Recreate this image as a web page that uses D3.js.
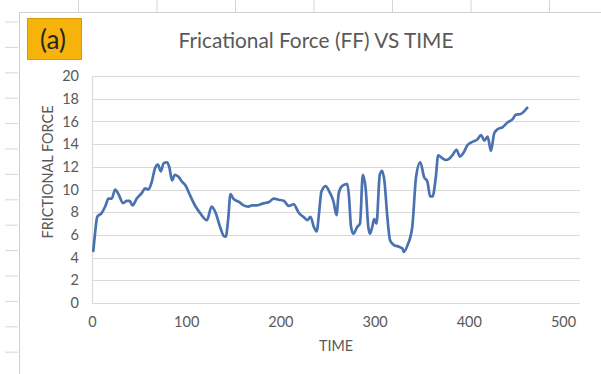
<!DOCTYPE html>
<html>
<head>
<meta charset="utf-8">
<script src="https://cdn.jsdelivr.net/npm/d3@7/dist/d3.min.js"></script>
<style>
  html, body { margin: 0; padding: 0; background: #fff; }
  svg { display: block; font-family: Lato, "Open Sans", sans-serif; }
</style>
</head>
<body>
<svg id="chart" width="601" height="374"></svg>
<script>
// Frictional force readings over time
const time = [1.4, 3.2, 5.6, 10, 14, 17.5, 21, 24.5, 28, 33, 37, 40, 43, 47.5, 53, 56.5, 60, 63.5, 67, 70,
  73, 76, 79.5, 82, 85, 88, 92, 95.5, 99, 104, 110, 115, 122, 127, 131, 136, 140, 142, 144.5, 147,
  150, 156, 161, 166, 170, 175, 179, 183, 188, 193, 198, 203.5, 209, 214, 219.5, 225, 228.5, 232, 235.5, 238.5,
  241, 243.5, 248, 252, 256.5, 259.5, 262, 265.5, 271, 272.7, 275, 277.5, 281.5, 284.5, 287.5, 290.5, 293.3, 295, 297.5, 299.5,
  302, 305.5, 308, 310.5, 313.5, 316.5, 320.5, 326, 329.5, 331, 335, 340, 344, 348.5, 352.5, 356, 359, 361.5, 365, 367.5,
  372, 375.5, 379, 382.5, 387, 390.5, 394.5, 398.5, 404, 409, 413, 416.5, 420, 423.5, 427, 430.5, 436, 441, 446.5, 450, 455, 462];
const force = [4.6, 6.1, 7.6, 7.9, 8.5, 9.2, 9.2, 10.0, 9.6, 8.8, 9.0, 9.0, 8.6, 9.2, 9.7, 10.1, 10.0, 10.7, 11.9, 12.2,
  11.6, 12.3, 12.4, 12.0, 10.8, 11.3, 11.1, 10.7, 10.4, 9.5, 8.5, 7.9, 7.3, 8.5, 8.0, 6.7, 5.9, 5.85, 7.3, 9.6,
  9.2, 8.9, 8.6, 8.5, 8.6, 8.6, 8.7, 8.8, 8.9, 9.2, 9.1, 9.0, 8.55, 8.7, 7.95, 7.55, 7.3, 7.6, 6.7, 6.3,
  7.9, 9.8, 10.3, 9.8, 8.9, 7.75, 9.7, 10.3, 10.5, 9.5, 6.7, 6.1, 6.7, 7.0, 11.3, 10.1, 6.7, 6.1, 6.7, 7.4,
  7.0, 11.3, 11.65, 10.7, 7.6, 5.5, 5.1, 4.95, 4.8, 4.5, 5.1, 6.7, 11.1, 12.4, 11.1, 10.7, 9.4, 9.4, 11.1, 13.0,
  12.75, 12.6, 12.7, 13.0, 13.5, 12.9, 13.25, 13.9, 14.2, 14.4, 14.8, 14.3, 14.65, 13.4, 14.95, 15.3, 15.5, 15.9, 16.2, 16.6, 16.65, 17.2];
const xTicks = [0, 100, 200, 300, 400, 500];
const yTicks = [0, 2, 4, 6, 8, 10, 12, 14, 16, 18, 20];
const titleText = "Fricational Force (FF) VS TIME";
const panelLabel = "(a)";
const xTitle = "TIME";
const yTitle = "FRICTIONAL FORCE";

const svg = d3.select("#chart");
const textColor = "#595959";
const gridColor = "#d9d9d9";
const sheetLine = "#d6d6d6";

// spreadsheet cells around the chart object
const colLines = [1, 2, 3, 4, 5, 6, 7].map(i => 78.5 * i);
svg.append("g").selectAll("line").data(colLines).join("line")
  .attr("x1", d => d).attr("x2", d => d).attr("y1", 0).attr("y2", 12)
  .attr("stroke", sheetLine).attr("stroke-width", 1);
const rowLines = d3.range(14).map(i => 22 + 25.4 * i);
svg.append("g").selectAll("line").data(rowLines).join("line")
  .attr("x1", 5).attr("x2", 18).attr("y1", d => d).attr("y2", d => d)
  .attr("stroke", sheetLine).attr("stroke-width", 1);

// chart object border
svg.append("path").attr("d", "M19.5,374 V12.5 H601")
  .attr("fill", "none").attr("stroke", "#d0d0d0").attr("stroke-width", 1);

// scales
const x = d3.scaleLinear().domain([0, 500]).range([92, 563]);
const y = d3.scaleLinear().domain([0, 20]).range([303, 76]);
const gridEnd = 580;

// horizontal gridlines
svg.append("g").selectAll("line").data(yTicks).join("line")
  .attr("x1", x(0)).attr("x2", gridEnd)
  .attr("y1", d => Math.round(y(d)) + 0.5).attr("y2", d => Math.round(y(d)) + 0.5)
  .attr("stroke", gridColor).attr("stroke-width", 1.2);

// y axis line
svg.append("line").attr("x1", x(0) + 0.5).attr("x2", x(0) + 0.5)
  .attr("y1", y(20)).attr("y2", y(0)).attr("stroke", gridColor).attr("stroke-width", 1.2);

// tick labels
const yAxis = d3.axisLeft(y).tickValues(yTicks).tickSize(0).tickPadding(0).tickFormat(d3.format("d"));
const yg = svg.append("g").attr("transform", "translate(79,0)").call(yAxis);
yg.select(".domain").remove();
yg.selectAll("text").attr("fill", textColor).attr("font-size", 14.5).attr("font-family", "Lato, sans-serif");

const xAxis = d3.axisBottom(x).tickValues(xTicks).tickSize(0).tickPadding(0).tickFormat(d3.format("d"));
const xg = svg.append("g").attr("transform", "translate(0,317)").call(xAxis);
xg.select(".domain").remove();
xg.selectAll("text").attr("fill", textColor).attr("font-size", 14.5).attr("font-family", "Lato, sans-serif");

// data line
const pts = time.map((t, i) => [t, force[i]]);
const line = d3.line().x(d => x(d[0])).y(d => y(d[1])).curve(d3.curveMonotoneX);
svg.append("path").datum(pts).attr("d", line)
  .attr("fill", "none").attr("stroke", "#4a72b0").attr("stroke-width", 2.7)
  .attr("stroke-linejoin", "round").attr("stroke-linecap", "round");

// titles
svg.append("text").attr("x", 316).attr("y", 48).attr("text-anchor", "middle")
  .attr("fill", textColor).attr("font-size", 21).attr("textLength", 275).attr("lengthAdjust", "spacingAndGlyphs")
  .text(titleText);
svg.append("text").attr("x", 336).attr("y", 351).attr("text-anchor", "middle")
  .attr("fill", textColor).attr("font-size", 14.5).attr("textLength", 34).attr("lengthAdjust", "spacingAndGlyphs")
  .text(xTitle);
svg.append("text").attr("transform", "translate(53,172) rotate(-90)").attr("text-anchor", "middle")
  .attr("fill", textColor).attr("font-size", 14.5).attr("textLength", 133).attr("lengthAdjust", "spacingAndGlyphs")
  .text(yTitle);

// panel label box
svg.append("rect").attr("x", 27.5).attr("y", 18.5).attr("width", 54).attr("height", 41)
  .attr("fill", "#f5b30c").attr("stroke", "#d79a08").attr("stroke-width", 1);
svg.append("text").attr("x", 53).attr("y", 49).attr("text-anchor", "middle")
  .attr("fill", "#262626").attr("font-size", 26).text(panelLabel);
</script>
</body>
</html>
